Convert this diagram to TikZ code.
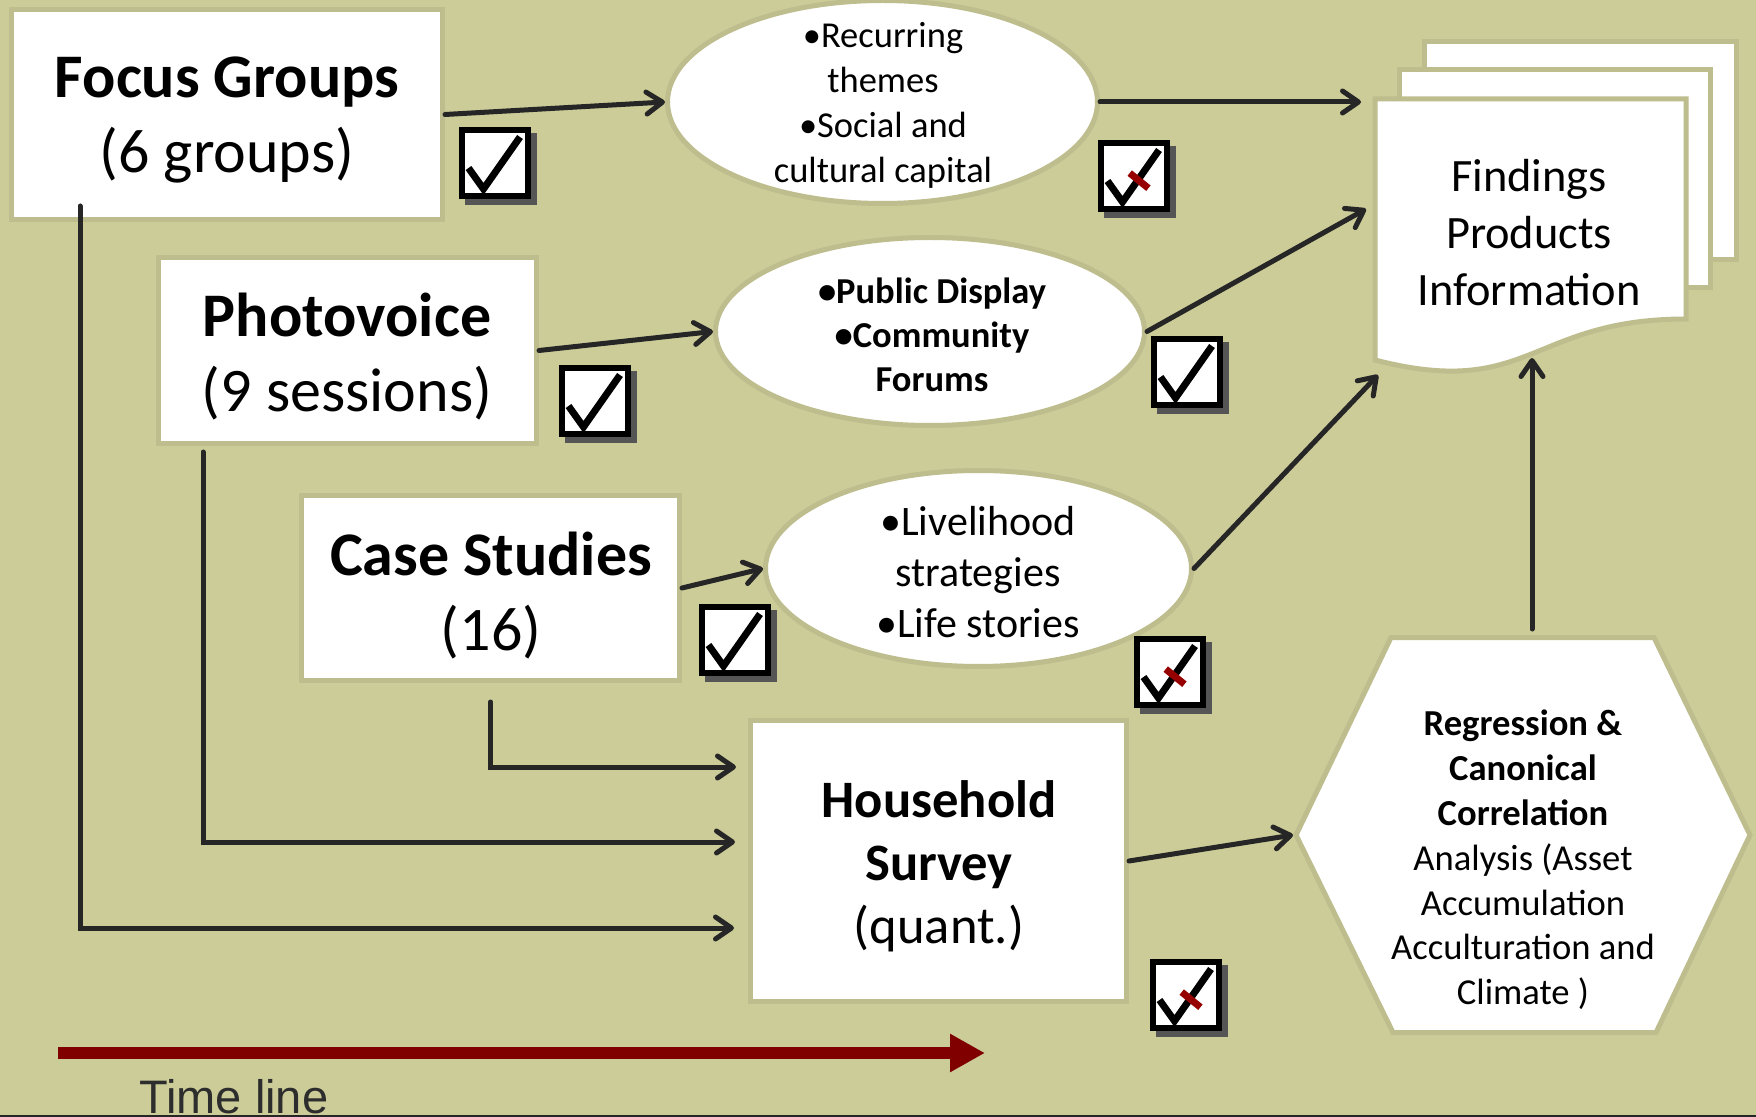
\documentclass[tikz,border=0pt]{standalone}
\usepackage{fontspec}
\setmainfont{Carlito}
\newfontfamily\arialf{Liberation Sans}
\usetikzlibrary{arrows.meta,shapes.geometric}
\definecolor{bg}{RGB}{204,204,153}
\definecolor{olive}{RGB}{189,189,141}
\definecolor{arrowc}{RGB}{38,38,38}
\definecolor{tlred}{RGB}{128,0,0}
\definecolor{chkred}{RGB}{150,0,0}
\definecolor{shadowc}{RGB}{85,85,85}
\definecolor{tlgray}{RGB}{45,45,45}
\begin{document}
\begin{tikzpicture}[x=0.5pt,y=-0.5pt,
  box/.style={draw=olive, fill=white, line width=2.5pt, rectangle, inner sep=0pt},
  oval/.style={draw=olive, fill=white, line width=2.5pt, ellipse, inner sep=0pt},
  shapeline/.style={draw=olive, fill=white, line width=2.5pt, line join=miter},
  bigtxt/.style={align=center, inner sep=0pt, font=\fontsize{31}{37.5}\selectfont},
  arr/.style={draw=arrowc, line width=2.5pt, line cap=round,
    -{Straight Barb[length=8pt,width=11pt,line cap=round,line join=round]}},
  chk/.pic={
    \fill[shadowc] (-30,-30) rectangle (42,42);
    \draw[fill=white, line width=3pt] (-33,-33) rectangle (33,33);
    \draw[line width=3.5pt] (-26.5,5) -- (-11.5,26) -- (25,-26);
  },
  chkr/.pic={
    \fill[shadowc] (-30,-30) rectangle (42,42);
    \draw[fill=white, line width=3pt] (-33,-33) rectangle (33,33);
    \draw[line width=3.5pt] (-26.5,5) -- (-11.5,26) -- (25,-26);
    \draw[chkred, line width=3.5pt] (-4.3,-2.9) -- (14.4,12.2);
  }
]
\useasboundingbox (0,0) rectangle (1756,1117);
\fill[bg] (0,0) rectangle (1756,1117);

% document stack
\draw[shapeline] (1424,42) rectangle (1736,260);
\draw[shapeline] (1399,70) rectangle (1710,288);
\draw[shapeline] (1375,99) -- (1686,99) -- (1686,319) .. controls (1530,319) and (1530,400) .. (1375,360) -- cycle;
\node[align=center, inner sep=0pt, font=\fontsize{23.2}{28.5}\selectfont] (doc) at (1529,233) {Findings\\Products\\Information};

% hexagon
\draw[shapeline] (1391,637.5) -- (1654,637.5) -- (1750,835) -- (1656,1032.5) -- (1393,1032.5) -- (1296,835) -- cycle;
\node[align=center, inner sep=0pt, font=\fontsize{18.3}{22.4}\selectfont] (hex) at (1523,860)
  {\textbf{Regression \&}\\\textbf{Canonical}\\\textbf{Correlation}\\Analysis (Asset\\Accumulation\\Acculturation and\\Climate )};
\coordinate (hexL) at (1293,835);
\coordinate (hexT) at (1532,629);

% boxes
\node[box, minimum width=215.5pt, minimum height=105pt] (FG) at (227,114.5) {};
\node[box, minimum width=189pt, minimum height=93pt] (PV) at (347.5,350.5) {};
\node[box, minimum width=189pt, minimum height=92.5pt] (CS) at (490.5,588) {};
\node[box, minimum width=188pt, minimum height=140.5pt] (HS) at (938.5,861) {};
\node[bigtxt] (FGt) at (227,120) {\textbf{Focus Groups}\\(6 groups)};
\node[bigtxt] (PVt) at (347,357) {\textbf{Photovoice}\\(9 sessions)};
\node[bigtxt] (CSt) at (491,596) {\textbf{Case Studies}\\(16)};
\node[align=center, inner sep=0pt, font=\fontsize{26.3}{31.5}\selectfont] (HSt) at (939,866) {\textbf{Household}\\\textbf{Survey}\\(quant.)};

% ellipses
\node[oval, minimum width=215pt, minimum height=101.5pt] (E1) at (882.5,102) {};
\node[oval, minimum width=214.5pt, minimum height=94pt] (E2) at (930,331.5) {};
\node[oval, minimum width=213pt, minimum height=98pt] (E3) at (978.5,568.5) {};
\node[align=center, inner sep=0pt, font=\fontsize{18.25}{22.5}\selectfont] (E1t) at (883,105.5) {•Recurring\\themes\\•Social and\\cultural capital};
\node[align=center, inner sep=0pt, font=\bfseries\fontsize{18.25}{22}\selectfont] (E2t) at (932,335) {•Public Display\\•Community\\Forums};
\node[align=center, inner sep=0pt, font=\fontsize{21}{25.5}\selectfont] (E3t) at (978,572) {•Livelihood\\strategies\\•Life stories};

% free ends
\coordinate (d1) at (1361,102);
\coordinate (d2) at (1366,209);
\coordinate (d3) at (1378,375);
\coordinate (d4) at (1532,358);
\coordinate (cs0) at (490.5,702);
\coordinate (pv0) at (203,452);
\coordinate (fg0) at (80,206);
\coordinate (h1) at (736,767);
\coordinate (h2) at (735,842);
\coordinate (h3) at (734,928);

% connectors
\draw[arr] (FG.east) -- (E1.west);
\draw[arr] (E1.east) -- (d1);
\draw[arr] (PV.east) -- (E2.west);
\draw[arr] (E2.east) -- (d2);
\draw[arr] (CS.east) -- (E3.west);
\draw[arr] (E3.east) -- (d3);
\draw[arr] (cs0) |- (h1);
\draw[arr] (pv0) |- (h2);
\draw[arr] (fg0) |- (h3);
\draw[arr] (HS.east) -- (hexL);
\draw[arr] (hexT) -- (d4);

% checkboxes
\pic (c1) at (495,163) {chk};
\pic (c2) at (1134,176) {chkr};
\pic (c3) at (1187,372) {chk};
\pic (c4) at (595,401) {chk};
\pic (c5) at (735,640) {chk};
\pic (c6) at (1170,672) {chkr};
\pic (c7) at (1186,995) {chkr};

% time line
\coordinate (t0) at (58,1053);
\coordinate (t1) at (985,1053);
\draw[tlred, line width=6.35pt, -{Triangle[length=17.5pt,width=18pt]}] (t0) -- (t1);
\node[anchor=base west, inner sep=0pt, text=tlgray, font=\arialf\fontsize{23.5}{28}\selectfont] (tl) at (139,1113) {Time line};
\coordinate (b0) at (0,1116);
\coordinate (b1) at (1756,1116);
\draw[arrowc, line width=1.2pt] (b0) -- (b1);
\end{tikzpicture}
\end{document}
